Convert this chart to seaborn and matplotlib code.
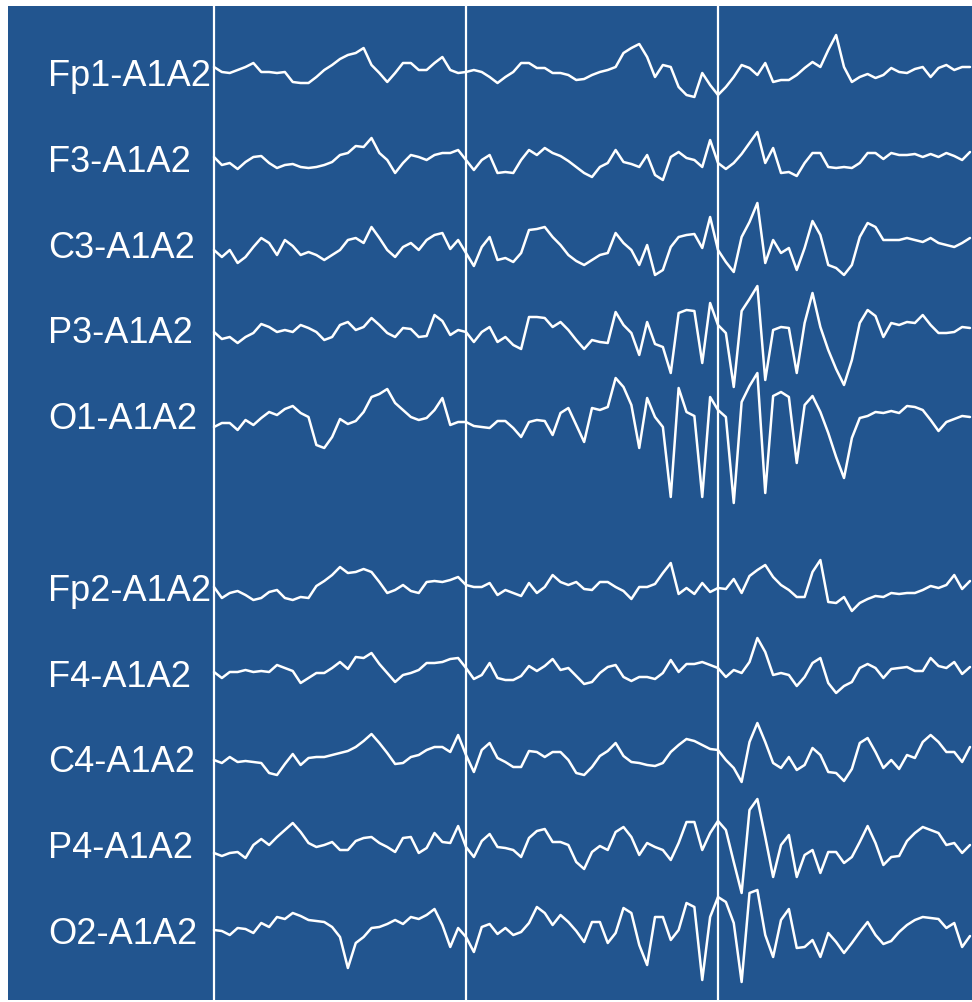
import numpy as np
import pandas as pd
import matplotlib
matplotlib.use("Agg")
import matplotlib.pyplot as plt
import seaborn as sns

# ---------------- data (amplitude, positive = up), 32 samples / s over 3 s ----------------
channels = ["Fp1-A1A2", "F3-A1A2", "C3-A1A2", "P3-A1A2", "O1-A1A2",
            "Fp2-A1A2", "F4-A1A2", "C4-A1A2", "P4-A1A2", "O2-A1A2"]
fs = 32
duration = 3

fp1 = [5, 0, -1, 2, 5, 9, 0, 0, -1, 0, -10, -11, -11, -5, 2, 7, 13, 17, 19, 24,
       7, -1, -10, -1, 9, 9, 2, 2, 9, 15, 2, -1, 0, 2, 0, -5, -11, -5, 0, 9,
       9, 4, 4, -1, -1, -3, -8, -7, -3, 0, 2, 5, 19, 24, 28, 15, -5, 7, 5, -15,
       -23, -25, -1, -13, -23, -15, -5, 7, 4, -3, 9, -10, -8, -8, -3, 4, 10, 5, 22, 37,
       5, -10, -5, -2, -6, -3, 4, 0, -1, 3, 5, -5, 4, 7, 2, 5, 5]
f3 = [1, -7, -5, -11, -4, 1, 2, -5, -10, -7, -6, -9, -10, -9, -7, -4, 3, 5, 12, 11,
      20, 5, -2, -15, -5, 3, 1, -2, 3, 5, 5, 8, -2, -12, -2, 3, -15, -14, -15, -2,
      8, 3, 10, 5, 2, -3, -9, -15, -19, -9, -5, 8, -4, -6, -9, 3, -17, -22, 1, 6,
      0, -2, -9, 18, -5, -11, -5, 4, 15, 26, -5, 10, -15, -14, -18, -5, 5, 5, -9, -10,
      -9, -10, -5, 5, 5, -1, 5, 3, 3, 4, 1, 4, 1, 5, 2, -2, 6]
c3 = [-6, -13, -6, -19, -13, -3, 6, 1, -11, 4, -2, -11, -8, -11, -16, -11, -6, 4, 6, 1,
      17, 6, -6, -13, -3, 1, -6, 4, 9, 11, -5, 4, -9, -22, -3, 7, -16, -14, -18, -9,
      14, 15, 17, 7, -1, -11, -17, -21, -16, -11, -9, 11, 1, -6, -21, -1, -31, -26, -3, 7,
      9, 10, -4, 27, -6, -18, -28, 7, 22, 41, -19, 4, -9, -4, -26, -4, 23, 9, -21, -24,
      -31, -21, 7, 21, 17, 4, 4, 4, 6, 4, 2, 6, 1, -1, -3, 1, 6]
p3 = [-3, -10, -8, -14, -8, -4, 5, 2, -3, -1, -3, 4, 1, -3, -11, -8, 4, 7, -1, 2,
      11, 4, -4, -8, 1, 0, -8, -7, 14, 8, -6, -1, -3, -13, -3, 2, -13, -8, -16, -20,
      12, 12, 11, 2, 7, -1, -11, -20, -11, -13, -14, 17, 4, -4, -26, 7, -15, -18, -44, 16,
      19, 18, -34, 26, 4, -4, -58, 18, 30, 43, -51, -1, 2, 1, -44, 6, 36, 2, -21, -40,
      -56, -31, 6, 19, 13, -8, 6, 4, 7, 6, 14, 4, -4, -4, -3, 2, 1]
o1 = [-12, -8, -8, -15, -5, -10, -3, 3, 0, 6, 9, 2, -2, -30, -33, -22, -4, -9, -6, 3,
      18, 21, 26, 12, 5, -2, -5, -3, 5, 17, -10, -7, -7, -11, -12, -13, -6, -6, -13, -22,
      -7, -5, -6, -20, 2, 7, -10, -27, 7, 5, 8, 37, 28, 10, -33, 17, -2, -12, -82, 27,
      3, -1, -82, 18, 5, -2, -88, 13, 29, 42, -78, 19, 23, 18, -48, 10, 19, 3, -18, -42,
      -63, -23, -3, -1, 3, 2, 4, 2, 9, 8, 5, -5, -16, -7, -4, -1, -2]
fp2 = [0, -11, -6, -4, -8, -13, -11, -5, -3, -11, -13, -10, -11, 1, 6, 12, 20, 14, 15, 18,
       15, 5, -6, -3, 2, -4, -6, 5, 6, 5, 7, 10, 2, 0, 0, 4, -8, -3, -6, -9,
       4, -6, 0, 12, 5, 2, 5, -2, -3, 5, 5, 0, -4, -12, 0, 0, 3, 14, 24, -7,
       -1, -7, 4, -5, -1, -2, 8, -6, 11, 17, 22, 10, 2, -3, -10, -10, 15, 27, -15, -16,
       -10, -24, -16, -12, -9, -10, -6, -7, -6, -6, -3, 1, -1, 2, 12, -2, 6]
f4 = [1, -5, 1, 1, 3, 1, 2, 1, 8, 5, 2, -10, -5, 0, 0, 5, 11, 4, 16, 15,
      20, 9, 0, -9, -2, 0, 3, 10, 10, 11, 14, 15, 5, -6, -2, 10, -5, -7, -7, -3,
      7, 2, 7, 14, 3, 5, -3, -11, -9, 0, 6, 8, -4, -8, -4, -4, -6, 0, 13, 1,
      9, 9, 11, 8, 5, -4, 3, 0, 11, 35, 21, -2, 0, -2, -13, -4, 10, 15, -10, -20,
      -13, -9, 5, 9, 5, -5, 4, 5, 6, 2, 2, 15, 7, 5, 11, -1, 6]
c4 = [-2, -5, 1, -4, -3, -4, -5, -15, -17, -6, 4, -7, 0, 1, 1, 3, 5, 7, 11, 17,
      24, 15, 5, -6, -5, 1, 3, 8, 11, 11, 6, 23, 3, -14, 8, 15, 0, -4, -9, -9,
      7, 6, 1, 6, 6, -2, -15, -17, -9, 2, 7, 15, 2, -4, -5, -7, -8, -5, 6, 13,
      19, 17, 13, 9, 8, -2, -10, -24, 16, 35, 16, -5, -10, 1, -12, -7, 10, 3, -14, -15,
      -23, -11, 15, 20, 6, -10, -2, -11, 3, 0, 16, 23, 16, 6, 6, -4, 11]
p4 = [-9, -12, -9, -8, -14, -1, 5, -1, 7, 14, 21, 12, 1, -3, -1, 2, -6, -6, 3, 6,
      7, 1, -3, -8, 6, 7, -9, -4, 11, 2, 1, 18, -3, -13, 3, 10, -3, -4, -6, -13,
      6, 13, 15, 2, 2, -1, -18, -25, -8, -2, -6, 12, 17, 7, -11, 1, -3, -6, -16, 1,
      22, 22, -6, 11, 23, 14, -18, -49, 34, 45, 7, -33, -1, 9, -33, -11, -6, -29, -8, -8,
      -19, -13, 2, 18, 1, -21, -13, -12, 3, 11, 17, 14, 11, -1, 1, -9, -1]
o2 = [0, -1, -5, 2, 1, -3, 7, 3, 13, 11, 17, 14, 10, 9, 8, 3, -7, -38, -13, -7,
      2, 3, 6, 10, 6, 13, 11, 15, 21, 5, -17, 2, -7, -22, 3, 6, -4, 2, -5, -2,
      7, 23, 17, 5, 15, 8, -1, -12, 8, 8, -13, -3, 22, 17, -15, -35, 13, 13, -10, 0,
      27, 23, -50, 13, 33, 28, 7, -52, 37, 40, -5, -27, 10, 21, -18, -17, -10, -27, -3, -12,
      -23, -13, -2, 8, -5, -14, -11, -2, 5, 10, 13, 12, 11, 2, 7, -17, -6]

signals = [fp1, f3, c3, p3, o1, fp2, f4, c4, p4, o2]

# ---------------- layout ----------------
W, H = 972, 1002
BG = "#22558f"
px_per_s = 252.0
x0_px = 214.0                      # pixel of t = 0
baselines_px = [72, 158, 244, 329, 415, 587, 673, 758, 844, 930]

t = np.arange(fs * duration + 1) / fs
rows = []
for name, base, sig in zip(channels, baselines_px, signals):
    sig = np.asarray(sig, dtype=float)
    for ti, v in zip(t, sig):
        rows.append({"channel": name, "t": ti, "y": base - v})
df = pd.DataFrame(rows)

sns.set_theme(style="white")
plt.rcParams["font.family"] = ["Liberation Sans", "DejaVu Sans"]

fig = plt.figure(figsize=(W / 100, H / 100), dpi=100, facecolor="white")
ax = fig.add_axes([8 / W, 2 / H, (W - 8) / W, (1000 - 6) / H])
ax.set_facecolor(BG)

sns.lineplot(data=df, x="t", y="y", units="channel", estimator=None,
             color="white", linewidth=1.8, ax=ax, legend=False)

for sec in range(duration):
    ax.axvline(sec, color="white", linewidth=1.6, zorder=1)

ax.set_xlim((8 - x0_px) / px_per_s, (W - x0_px) / px_per_s)
ax.set_ylim(1000, 6)

label_x = (48 - x0_px) / px_per_s
for name, base in zip(channels, baselines_px):
    ax.text(label_x, base + 5, name, color="white", fontsize=26,
            ha="left", va="center")

ax.set_xlabel("")
ax.set_ylabel("")
ax.set_xticks([])
ax.set_yticks([])
for s in ax.spines.values():
    s.set_visible(False)

fig.savefig("out.png", dpi=100, facecolor="white")
